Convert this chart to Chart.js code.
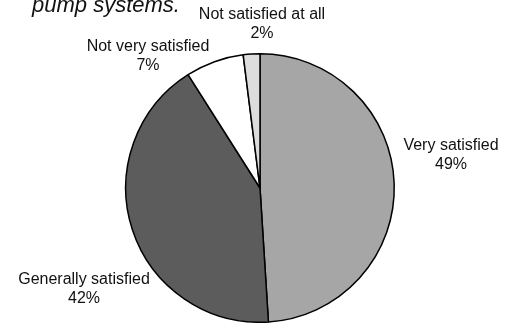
<!DOCTYPE html>
<html>
<head>
<meta charset="utf-8">
<script src="https://cdn.jsdelivr.net/npm/chart.js@4/dist/chart.umd.min.js"></script>
<style>
  html, body { margin: 0; padding: 0; background: #ffffff; }
  #wrap { width: 512px; height: 323px; position: relative; }
</style>
</head>
<body>
<div id="wrap"><canvas id="chart" width="512" height="323"></canvas></div>
<script>
// Satisfaction with pump systems (share of respondents, %)
const categories = ["Very satisfied", "Generally satisfied", "Not very satisfied", "Not satisfied at all"];
const shares = [49, 42, 7, 2];
const sliceColors = ["#a6a6a6", "#5c5c5c", "#ffffff", "#dddddd"];
const titleText = "pump systems.";

// Where each two-line label is centred (first line), in canvas pixels
const labelAnchors = [
  { x: 451, y: 146 },
  { x: 84,  y: 280 },
  { x: 148, y: 47 },
  { x: 262, y: 15 }
];

const FONT = '"Liberation Sans", Arial, sans-serif';

const labelPlugin = {
  id: 'sliceLabels',
  afterDraw(chart) {
    const ctx = chart.ctx;
    ctx.save();
    ctx.fillStyle = '#111111';
    ctx.textAlign = 'center';
    ctx.textBaseline = 'middle';
    ctx.font = '16px ' + FONT;
    const values = chart.data.datasets[0].data;
    chart.data.labels.forEach((name, i) => {
      const a = labelAnchors[i];
      ctx.fillText(name, a.x, a.y);
      ctx.fillText(values[i] + '%', a.x, a.y + 19);
    });
    // last line of the title, the rest sits above the canvas
    ctx.textAlign = 'left';
    ctx.textBaseline = 'alphabetic';
    ctx.font = 'italic 22px ' + FONT;
    ctx.fillText(titleText, 32, 12);
    ctx.restore();
  }
};

new Chart(document.getElementById('chart'), {
  type: 'pie',
  data: {
    labels: categories,
    datasets: [{
      data: shares,
      backgroundColor: sliceColors,
      borderColor: '#000000',
      borderWidth: 1.5,
      borderAlign: 'center'
    }]
  },
  options: {
    responsive: false,
    animation: false,
    layout: { padding: { top: 53, bottom: 0, left: 8, right: 0 } },
    plugins: {
      legend: { display: false },
      tooltip: { enabled: false },
      title: { display: false }
    }
  },
  plugins: [labelPlugin]
});
</script>
</body>
</html>
